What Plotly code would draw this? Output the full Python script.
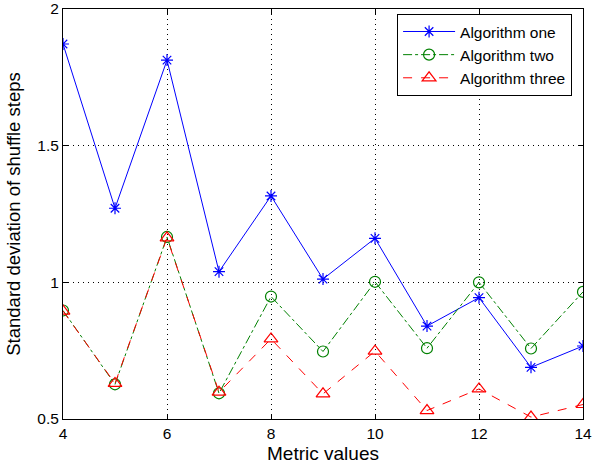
import plotly.graph_objects as go

metric = [4, 5, 6, 7, 8, 9, 10, 11, 12, 13, 14]
algo_one = [1.872, 1.271, 1.813, 1.039, 1.316, 1.012, 1.161, 0.840, 0.944, 0.689, 0.767]
algo_two = [0.897, 0.627, 1.166, 0.594, 0.948, 0.747, 1.002, 0.759, 1.000, 0.758, 0.965]
algo_three = [0.895, 0.630, 1.163, 0.598, 0.793, 0.592, 0.748, 0.531, 0.610, 0.507, 0.553]

FONT = "Liberation Sans, Arial, Helvetica, sans-serif"

fig = go.Figure()
fig.add_trace(go.Scatter(
    x=metric, y=algo_one, name="Algorithm one", mode="lines+markers",
    line=dict(color="#0000ff", width=1, dash="solid"),
    marker=dict(symbol="asterisk-open", size=10, color="#0000ff",
                line=dict(color="#0000ff", width=1.2)),
))
fig.add_trace(go.Scatter(
    x=metric, y=algo_two, name="Algorithm two", mode="lines+markers",
    line=dict(color="#008000", width=1, dash="dashdot"),
    marker=dict(symbol="circle-open", size=11, color="#008000",
                line=dict(color="#008000", width=1.2)),
))
fig.add_trace(go.Scatter(
    x=metric, y=algo_three, name="Algorithm three", mode="lines+markers",
    line=dict(color="#ff0000", width=1, dash="dash"),
    marker=dict(symbol="triangle-up-open", size=12, color="#ff0000",
                line=dict(color="#ff0000", width=1.2)),
))

axis_common = dict(
    showline=True, linecolor="black", linewidth=1, mirror="ticks",
    ticks="inside", ticklen=5, tickcolor="black",
    showgrid=True, gridcolor="black", gridwidth=1, griddash="1px,4px",
    zeroline=False, tickfont=dict(family=FONT, size=15.5, color="black"),
    automargin=False,
)

fig.update_xaxes(range=[4, 14], tick0=4, dtick=2,
                 title=dict(text="Metric values", font=dict(family=FONT, size=19, color="black"),
                            standoff=6),
                 **axis_common)
fig.update_yaxes(range=[0.5, 2], tick0=0.5, dtick=0.5,
                 title=dict(text="Standard deviation of shuffle steps",
                            font=dict(family=FONT, size=18.5, color="black"), standoff=11),
                 **axis_common)

fig.update_layout(
    width=594, height=465,
    margin=dict(l=63, r=11, t=9, b=46, autoexpand=False),
    paper_bgcolor="white", plot_bgcolor="white",
    font=dict(family=FONT, color="black"),
    legend=dict(x=0.979, y=0.988, xanchor="right", yanchor="top",
                bgcolor="white", bordercolor="black", borderwidth=1,
                font=dict(family=FONT, size=15.5, color="black"),
                tracegroupgap=0, itemwidth=52),
    showlegend=True,
)

fig.write_html("out.html", config={"displayModeBar": False},
               post_script="document.body.style.margin='0';document.body.style.overflow='hidden';")
